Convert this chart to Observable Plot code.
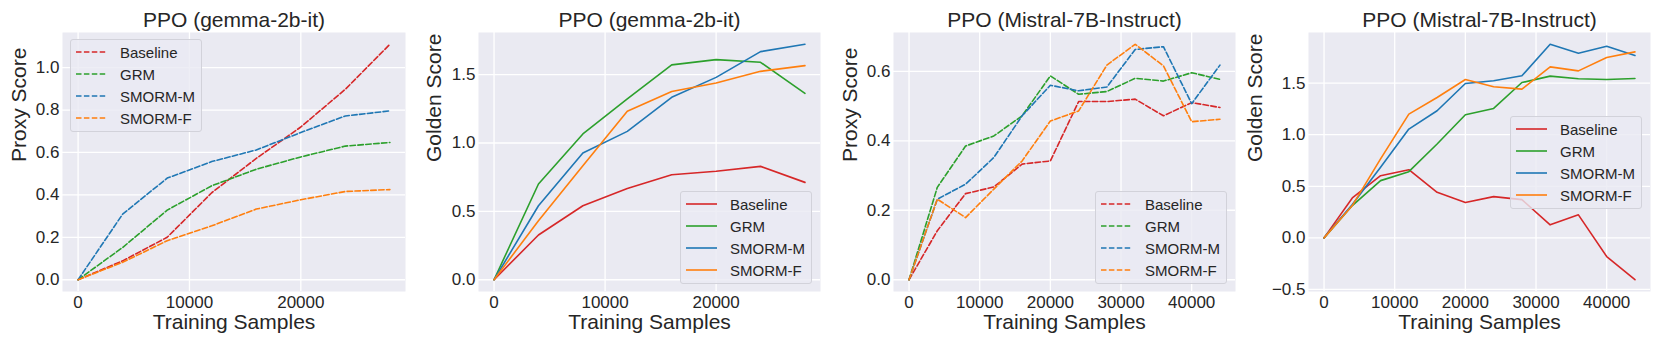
<!DOCTYPE html>
<html>
<head>
<meta charset="utf-8">
<script src="https://cdn.jsdelivr.net/npm/d3@7"></script>
<script src="https://cdn.jsdelivr.net/npm/@observablehq/plot@0.6"></script>
<style>
  html, body { margin: 0; padding: 0; background: #fff; }
  #root { position: relative; width: 1661px; height: 346px; overflow: hidden; font-family: "Liberation Sans", Arial, sans-serif; }
  .panel { position: absolute; top: 0; }
  .legend { position: absolute; box-sizing: border-box; width: 132px; height: 93px; border: 1px solid #d2d2da; border-radius: 3px; background: rgba(234,234,242,0.8); padding-top: 1px; }
  .legend .row { height: 22px; display: flex; align-items: center; font-size: 15px; color: #262626; }
  .legend svg { margin-left: 5px; margin-right: 13px; }
</style>
</head>
<body>
<div id="root"></div>
<script>
// ---- data ----
const methods = ["Baseline", "GRM", "SMORM-M", "SMORM-F"];
const colors = ["#d62728", "#2ca02c", "#1f77b4", "#ff7f0e"];

const samplesGemma = [0, 4000, 8000, 12000, 16000, 20000, 24000, 28000];
const samplesMistral = [0, 4000, 8000, 12000, 16000, 20000, 24000, 28000, 32000, 36000, 40000, 44000];

// Panel 1: PPO (gemma-2b-it) proxy score
const gemmaProxyBaseline = [0, 0.089, 0.20, 0.41, 0.572, 0.72, 0.898, 1.11];
const gemmaProxyGRM      = [0, 0.152, 0.328, 0.443, 0.521, 0.579, 0.63, 0.647];
const gemmaProxySMORM_M  = [0, 0.309, 0.479, 0.557, 0.612, 0.694, 0.772, 0.796];
const gemmaProxySMORM_F  = [0, 0.082, 0.184, 0.254, 0.333, 0.377, 0.416, 0.425];

// Panel 2: PPO (gemma-2b-it) golden score
const gemmaGoldBaseline = [0, 0.327, 0.541, 0.668, 0.768, 0.793, 0.829, 0.712];
const gemmaGoldGRM      = [0, 0.70, 1.066, 1.322, 1.571, 1.61, 1.59, 1.363];
const gemmaGoldSMORM_M  = [0, 0.541, 0.927, 1.085, 1.334, 1.48, 1.668, 1.722];
const gemmaGoldSMORM_F  = [0, 0.432, 0.834, 1.232, 1.376, 1.439, 1.524, 1.566];

// Panel 3: PPO (Mistral-7B-Instruct) proxy score
const mistralProxyBaseline = [0, 0.141, 0.248, 0.267, 0.333, 0.342, 0.513, 0.513, 0.52, 0.472, 0.51, 0.496];
const mistralProxyGRM      = [0, 0.266, 0.385, 0.414, 0.472, 0.587, 0.534, 0.542, 0.58, 0.572, 0.596, 0.577];
const mistralProxySMORM_M  = [0, 0.232, 0.275, 0.352, 0.472, 0.56, 0.544, 0.555, 0.663, 0.671, 0.507, 0.618];
const mistralProxySMORM_F  = [0, 0.232, 0.179, 0.261, 0.342, 0.457, 0.486, 0.618, 0.678, 0.616, 0.455, 0.462];

// Panel 4: PPO (Mistral-7B-Instruct) golden score
const mistralGoldBaseline = [0, 0.387, 0.603, 0.661, 0.442, 0.342, 0.40, 0.371, 0.126, 0.223, -0.181, -0.406];
const mistralGoldGRM      = [0, 0.313, 0.555, 0.642, 0.91, 1.194, 1.255, 1.506, 1.568, 1.542, 1.535, 1.545];
const mistralGoldSMORM_M  = [0, 0.323, 0.684, 1.055, 1.232, 1.497, 1.523, 1.571, 1.877, 1.79, 1.858, 1.768];
const mistralGoldSMORM_F  = [0, 0.313, 0.765, 1.20, 1.361, 1.535, 1.465, 1.442, 1.658, 1.619, 1.748, 1.803];

const titles = ["PPO (gemma-2b-it)", "PPO (gemma-2b-it)", "PPO (Mistral-7B-Instruct)", "PPO (Mistral-7B-Instruct)"];
const yLabels = ["Proxy Score", "Golden Score", "Proxy Score", "Golden Score"];
const xLabel = "Training Samples";

const xTicksGemma = [0, 10000, 20000];
const xTicksMistral = [0, 10000, 20000, 30000, 40000];
const yTicksP1 = [0, 0.2, 0.4, 0.6, 0.8, 1.0];
const yTicksP2 = [0, 0.5, 1.0, 1.5];
const yTicksP3 = [0, 0.2, 0.4, 0.6];
const yTicksP4 = [-0.5, 0, 0.5, 1.0, 1.5];

// ---- drawing ----
const root = document.getElementById("root");
const ink = "#262626";

function rows(xs, series) {
  return methods.flatMap((m, i) => xs.map((x, j) => ({x, y: series[i][j], method: m})));
}

function padDomain(lo, hi) {
  const p = (hi - lo) * 0.05;
  return [lo - p, hi + p];
}

function panel(cfg) {
  const data = rows(cfg.xs, cfg.series);
  const allY = cfg.series.flat();
  const xDom = padDomain(d3.min(cfg.xs), d3.max(cfg.xs));
  const yDom = padDomain(d3.min(allY), d3.max(allY));
  const plot = Plot.plot({
    width: cfg.width,
    height: 346,
    marginTop: 32,
    marginBottom: 55,
    marginLeft: cfg.marginLeft,
    marginRight: cfg.marginRight,
    style: {fontFamily: '"Liberation Sans", Arial, sans-serif', fontSize: "17px", color: ink, background: "transparent", overflow: "visible"},
    x: {domain: xDom},
    y: {domain: yDom},
    color: {domain: methods, range: colors},
    marks: [
      Plot.frame({fill: "#EAEAF2", stroke: null}),
      Plot.gridX({ticks: cfg.xTicks, stroke: "white", strokeOpacity: 1, strokeWidth: 1.3}),
      Plot.gridY({ticks: cfg.yTicks, stroke: "white", strokeOpacity: 1, strokeWidth: 1.3}),
      Plot.axisX({ticks: cfg.xTicks, tickSize: 0, tickPadding: 4, label: null, tickFormat: d => String(d), fontSize: 17, fill: ink}),
      Plot.axisY({ticks: cfg.yTicks, tickSize: 0, tickPadding: 3, label: null, tickFormat: d3.format(".1f"), fontSize: 17, fill: ink}),
      Plot.line(data, {x: "x", y: "y", z: "method", stroke: "method", strokeWidth: 1.6,
        strokeDasharray: cfg.dashed ? "5.5,2.4" : null}),
      Plot.text([cfg.title], {text: d => d, frameAnchor: "top", dy: -12, lineAnchor: "middle", fontSize: 21, fill: ink}),
      Plot.text([xLabel], {text: d => d, frameAnchor: "bottom", dy: 31, lineAnchor: "middle", fontSize: 21, fill: ink}),
      Plot.text([cfg.yLabel], {text: d => d, frameAnchor: "left", dx: cfg.yLabelDx, rotate: -90, lineAnchor: "middle", fontSize: 21, fill: ink})
    ]
  });
  const wrap = document.createElement("div");
  wrap.className = "panel";
  wrap.style.left = cfg.left + "px";
  wrap.appendChild(plot);
  root.appendChild(wrap);

  // legend
  const lg = document.createElement("div");
  lg.className = "legend";
  lg.style.left = cfg.legendLeft + "px";
  lg.style.top = cfg.legendTop + "px";
  methods.forEach((m, i) => {
    const r = document.createElement("div");
    r.className = "row";
    r.innerHTML = `<svg width="31" height="4"><line x1="0" x2="31" y1="2" y2="2" stroke="${colors[i]}" stroke-width="1.6" ${cfg.dashed ? 'stroke-dasharray="5.5,2.4"' : ''}/></svg><span>${m}</span>`;
    lg.appendChild(r);
  });
  root.appendChild(lg);
}

panel({left: 0, width: 415, marginLeft: 62, marginRight: 10, xs: samplesGemma,
  series: [gemmaProxyBaseline, gemmaProxyGRM, gemmaProxySMORM_M, gemmaProxySMORM_F],
  xTicks: xTicksGemma, yTicks: yTicksP1, dashed: true, title: titles[0], yLabel: yLabels[0], yLabelDx: -43,
  legendLeft: 70, legendTop: 39});
panel({left: 415, width: 415, marginLeft: 63, marginRight: 10, xs: samplesGemma,
  series: [gemmaGoldBaseline, gemmaGoldGRM, gemmaGoldSMORM_M, gemmaGoldSMORM_F],
  xTicks: xTicksGemma, yTicks: yTicksP2, dashed: false, title: titles[1], yLabel: yLabels[1], yLabelDx: -44,
  legendLeft: 680, legendTop: 191});
panel({left: 830, width: 415, marginLeft: 63, marginRight: 10, xs: samplesMistral,
  series: [mistralProxyBaseline, mistralProxyGRM, mistralProxySMORM_M, mistralProxySMORM_F],
  xTicks: xTicksMistral, yTicks: yTicksP3, dashed: true, title: titles[2], yLabel: yLabels[2], yLabelDx: -43,
  legendLeft: 1095, legendTop: 191});
panel({left: 1245, width: 416, marginLeft: 63, marginRight: 11, xs: samplesMistral,
  series: [mistralGoldBaseline, mistralGoldGRM, mistralGoldSMORM_M, mistralGoldSMORM_F],
  xTicks: xTicksMistral, yTicks: yTicksP4, dashed: false, title: titles[3], yLabel: yLabels[3], yLabelDx: -53,
  legendLeft: 1510, legendTop: 116});
</script>
</body>
</html>
